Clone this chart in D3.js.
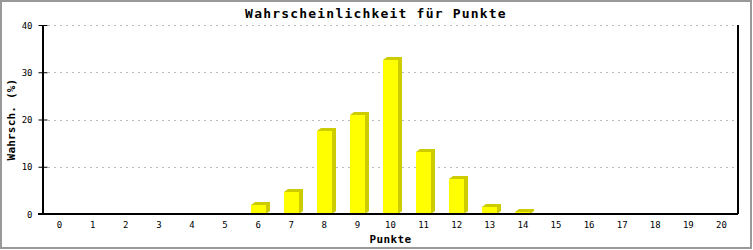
<!DOCTYPE html>
<html lang="de">
<head>
    <meta charset="UTF-8">
    <title>Wahrscheinlichkeit für Punkte</title>
    <script src="https://cdn.jsdelivr.net/npm/d3@7/dist/d3.min.js"></script>
    <style>
        body { margin: 0; background: #fff; }
        text { font-family: "DejaVu Sans Mono", monospace; fill: #000; }
        .grid line { stroke: #bbb; stroke-dasharray: 2 4; }
    </style>
</head>
<body>
<script>
    // Daten
    const punkte = d3.range(0, 21).map(String);
    const wahrsch = [0, 0, 0, 0, 0, 0, 1.8, 4.7, 17.6, 21.0, 32.6, 13.2, 7.5, 1.4, 0.4, 0, 0, 0, 0, 0, 0];
    const yTicks = [0, 10, 20, 30, 40];

    const width = 753, height = 250;
    const margin = {left: 43, right: 15, top: 25, bottom: 36};

    const svg = d3.select('body').append('svg')
        .attr('width', width)
        .attr('height', height);

    // Rahmen
    svg.append('rect')
        .attr('x', 1).attr('y', 1)
        .attr('width', 750).attr('height', 247)
        .attr('fill', '#fff')
        .attr('stroke', '#999')
        .attr('stroke-width', 2);

    const x = d3.scaleBand()
        .domain(punkte)
        .range([margin.left, width - margin.right]);

    const y = d3.scaleLinear()
        .domain([0, 40])
        .range([height - margin.bottom, margin.top]);

    // Gitterlinien
    svg.append('g')
        .attr('class', 'grid')
        .selectAll('line')
        .data(yTicks.filter(d => d > 0))
        .enter()
        .append('line')
        .attr('x1', margin.left + 5)
        .attr('x2', width - margin.right)
        .attr('y1', d => Math.round(y(d)) + 0.5)
        .attr('y2', d => Math.round(y(d)) + 0.5);

    // Balken mit 3D-Schatten
    const bw = 15, dx = 4, dy = 3;
    const bars = svg.append('g')
        .selectAll('g')
        .data(punkte.map((p, i) => ({p: p, v: wahrsch[i]})).filter(d => d.v > 0))
        .enter()
        .append('g');

    bars.append('polygon')
        .attr('fill', '#cccc00')
        .attr('points', d => {
            const x0 = Math.round(x(d.p) + x.bandwidth() / 2 - bw / 2);
            const x1 = x0 + bw;
            const yt = Math.round(y(d.v));
            const yb = Math.round(y(0));
            return [[x0, yt], [x0 + dx, yt - dy], [x1 + dx, yt - dy], [x1 + dx, yb - dy], [x1, yb]].join(' ');
        });

    bars.append('rect')
        .attr('fill', '#ffff00')
        .attr('x', d => Math.round(x(d.p) + x.bandwidth() / 2 - bw / 2))
        .attr('y', d => Math.round(y(d.v)))
        .attr('width', bw)
        .attr('height', d => Math.round(y(0)) - Math.round(y(d.v)));

    // Achsen
    const yAxis = svg.append('g')
        .attr('transform', `translate(${margin.left + 0.5},0)`)
        .call(d3.axisLeft(y).tickValues(yTicks).tickSize(5).tickPadding(6));
    yAxis.select('.domain').remove();
    yAxis.selectAll('.tick line').attr('x2', -5).attr('x1', 4).attr('stroke', '#000');
    yAxis.selectAll('.tick text')
        .style('font-size', '9px')
        .attr('x', -11)
        .attr('dy', '0.35em');

    // Achsenlinien
    const axisLines = [
        [margin.left, margin.top, margin.left, y(0)],
        [margin.left - 5, Math.round(y(0)), width - margin.right, Math.round(y(0))],
        [width - margin.right, margin.top, width - margin.right, y(0)]
    ];
    svg.append('g')
        .selectAll('line')
        .data(axisLines)
        .enter()
        .append('line')
        .attr('x1', d => d[0]).attr('y1', d => d[1])
        .attr('x2', d => d[2]).attr('y2', d => d[3])
        .attr('stroke', '#000')
        .attr('stroke-width', 2);

    const xAxis = svg.append('g')
        .attr('transform', `translate(0,${Math.round(y(0))})`)
        .call(d3.axisBottom(x).tickSize(0).tickPadding(8));
    xAxis.select('.domain').remove();
    xAxis.selectAll('.tick text')
        .style('font-size', '9px')
        .attr('dy', '0.71em');

    // Titel
    svg.append('text')
        .attr('x', 376)
        .attr('y', 18)
        .attr('text-anchor', 'middle')
        .style('font-size', '13px')
        .style('font-weight', 'bold')
        .style('letter-spacing', '1.2px')
        .text('Wahrscheinlichkeit für Punkte');

    svg.append('text')
        .attr('x', (margin.left + width - margin.right) / 2)
        .attr('y', 243)
        .attr('text-anchor', 'middle')
        .style('font-size', '11px')
        .style('font-weight', 'bold')
        .style('letter-spacing', '0.4px')
        .text('Punkte');

    svg.append('text')
        .attr('transform', `translate(15,${(margin.top + y(0)) / 2}) rotate(-90)`)
        .attr('text-anchor', 'middle')
        .style('font-size', '11px')
        .style('font-weight', 'bold')
        .style('letter-spacing', '0.2px')
        .text('Wahrsch. (%)');
</script>
</body>
</html>
